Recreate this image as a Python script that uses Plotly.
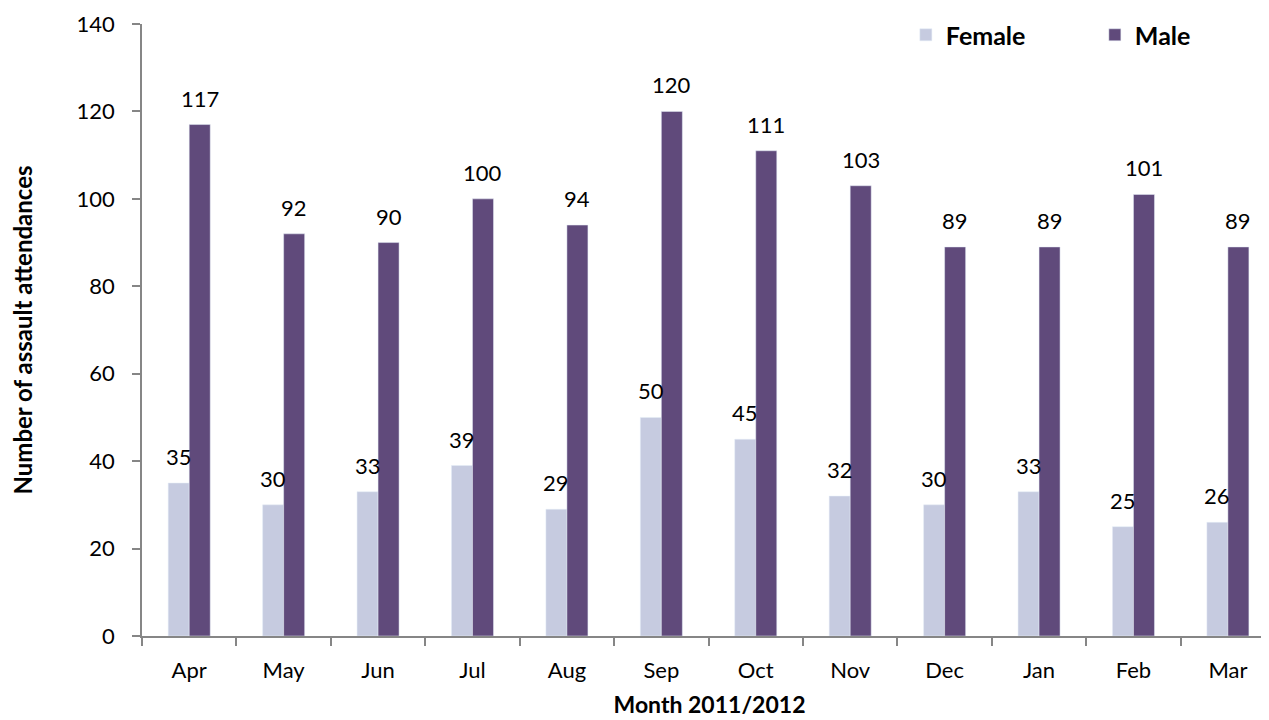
import plotly.graph_objects as go

months = ["Apr", "May", "Jun", "Jul", "Aug", "Sep", "Oct", "Nov", "Dec", "Jan", "Feb", "Mar"]
female = [35, 30, 33, 39, 29, 50, 45, 32, 30, 33, 25, 26]
male = [117, 92, 90, 100, 94, 120, 111, 103, 89, 89, 101, 89]

FONT = "Lato"
fig = go.Figure()
fig.add_trace(go.Bar(x=months, y=female, name="<b>Female</b>", marker_color="#C6CBE0"))
fig.add_trace(go.Bar(x=months, y=male, name="<b>Male</b>", marker_color="#604A7B"))

for series, shift in ((female, -10.5), (male, 10.5)):
    for m, v in zip(months, series):
        fig.add_annotation(x=m, y=v, text=str(v), showarrow=False, xshift=shift,
                           yanchor="bottom", yshift=11,
                           font=dict(size=22, family=FONT, color="#000000"))

fig.update_layout(
    width=1269, height=720,
    margin=dict(l=134, r=0, t=16, b=92, autoexpand=False),
    plot_bgcolor="white", paper_bgcolor="white",
    font=dict(family=FONT, size=22, color="#000000"),
    barmode="group", bargap=0.555, bargroupgap=0,
    legend=dict(orientation="h", x=0.673, y=0.982, xanchor="left", yanchor="middle",
                font=dict(size=25, family=FONT), entrywidth=144, entrywidthmode="pixels",
                bgcolor="rgba(0,0,0,0)"),
    xaxis=dict(range=[-0.5, 11.52], showline=True, linecolor="#868686", linewidth=1.5,
               ticks="outside", tickson="boundaries", ticklen=8, tickcolor="#868686",
               tickwidth=1.5, automargin=False, ticklabelstandoff=14,
               title=dict(text="<b>Month 2011/2012</b>", font=dict(size=23, family=FONT), standoff=15)),
    yaxis=dict(range=[0, 140], dtick=20, showline=True, linecolor="#868686", linewidth=1.5,
               ticks="outside", ticklen=8, tickcolor="#868686", tickwidth=1.5, showgrid=False,
               zeroline=False, automargin=False, ticklabelstandoff=13,
               title=dict(text="<b>Number of assault attendances</b>", font=dict(size=24, family=FONT), standoff=47)),
)
fig.write_html("out.html")
